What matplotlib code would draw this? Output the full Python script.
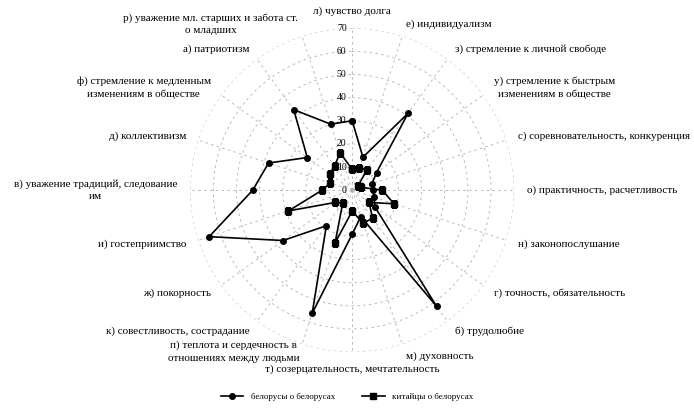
import numpy as np
import matplotlib
matplotlib.use("Agg")
import matplotlib.pyplot as plt
import matplotlib.transforms as mtransforms

# Categories go clockwise from the top
categories = [
    "л) чувство долга",
    "е) индивидуализм",
    "з) стремление к личной свободе",
    "у) стремление к быстрым\nизменениям в обществе",
    "с) соревновательность, конкуренция",
    "о) практичность, расчетливость",
    "н) законопослушание",
    "г) точность, обязательность",
    "б) трудолюбие",
    "м) духовность",
    "т) созерцательность, мечтательность",
    "п) теплота и сердечность в\nотношениях между людьми",
    "к) совестливость, сострадание",
    "ж) покорность",
    "и) гостеприимство",
    "в) уважение традиций, следование\nим",
    "д) коллективизм",
    "ф) стремление к медленным\nизменениям в обществе",
    "а) патриотизм",
    "р) уважение мл. старших и забота ст.\nо младших",
]
belarus_about_belarus = [30, 15, 41, 13, 9, 9, 10, 12, 62, 12, 19, 56, 19, 37, 65, 43, 38, 24, 43, 30]
china_about_belarus = [9, 10, 11, 3, 4, 13, 19, 9, 15, 15, 9, 24, 7, 9, 29, 13, 10, 12, 13, 17]
series_names = ["белорусы о белорусах", "китайцы о белорусах"]
r_ticks = [0, 10, 20, 30, 40, 50, 60, 70]

plt.rcParams['font.family'] = ['Liberation Serif', 'DejaVu Serif']


def closed(values):
    return list(values) + [values[0]]


def plot_radar():
    n = len(categories)
    angles = np.linspace(0, 2 * np.pi, n, endpoint=False)
    ang = closed(angles)

    fig = plt.figure(figsize=(6.94, 4.09), dpi=100)
    ax = fig.add_axes([0.274, 0.139, 0.467, 0.792], projection='polar')
    ax.set_theta_offset(np.pi / 2)
    ax.set_theta_direction(-1)
    ax.set_ylim(0, 70)

    ax.plot(ang, closed(belarus_about_belarus), color='black', linewidth=1.2,
            marker='o', markersize=4, label=series_names[0])
    ax.plot(ang, closed(china_about_belarus), color='black', linewidth=1.2,
            marker='s', markersize=4, label=series_names[1])

    # grid: dashed circles and spokes
    ax.set_xticks(angles)
    ax.set_xticklabels([])
    ax.set_yticks(r_ticks[1:])
    ax.set_yticklabels([])
    ax.grid(True, color='#b0b0b0', linestyle=(0, (3, 4)), linewidth=0.6)
    ax.spines['polar'].set_visible(False)

    # value labels along the vertical axis
    shift = mtransforms.offset_copy(ax.transData, fig=fig, x=-4, y=0, units='points')
    for v in r_ticks:
        ax.text(0, v, str(v), transform=shift, ha='right', va='center', fontsize=7)

    # category labels
    for i, (a, lab) in enumerate(zip(angles, categories)):
        s = np.sin(a)
        if abs(s) < 0.05:
            ha = 'center'
        elif s > 0:
            ha = 'left'
        else:
            ha = 'right'
        r = 77.5 if abs(s) < 0.05 else 75.5
        if i == 11:
            r = 73.5  # keep the two-line label clear of the bottom one
        ax.text(a, r, lab, ha=ha, va='center', multialignment='center',
                linespacing=1.5, fontsize=8, clip_on=False)

    fig.legend(loc='lower center', bbox_to_anchor=(0.5, 0.0), ncol=2, frameon=False,
               fontsize=6.5, handlelength=2.5, columnspacing=3)
    fig.savefig('out.png', dpi=100)


plot_radar()
